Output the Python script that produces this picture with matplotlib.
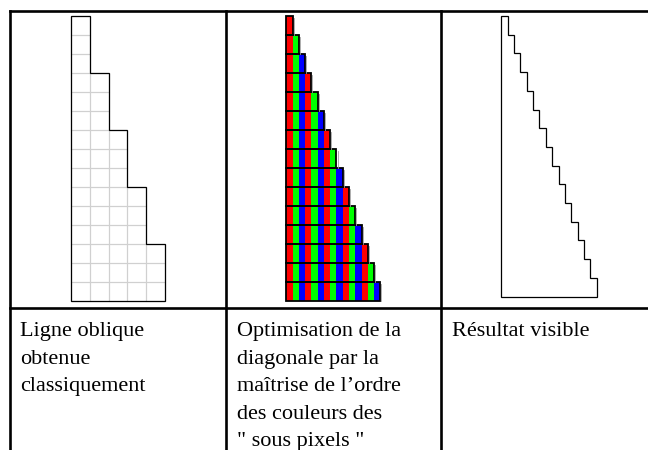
import matplotlib
matplotlib.use('Agg')
import matplotlib.pyplot as plt
from matplotlib.patches import Rectangle, Polygon

# column heights (in cells) of each drawing
classic_heights = [15, 12, 9, 6, 3]
subpixel_heights = [15, 14, 13, 12, 11, 10, 9, 8, 7, 6, 5, 4, 3, 2, 1]
result_heights = [15, 14, 13, 12, 11, 10, 9, 8, 7, 6, 5, 4, 3, 2, 1]
subpixel_colors = ['#ff0000', '#00ff00', '#0000ff']

captions = [
    ['Ligne oblique', 'obtenue', 'classiquement'],
    ['Optimisation de la', 'diagonale par la', 'maîtrise de l\u2019ordre',
     'des couleurs des', '" sous pixels "'],
    ['Résultat visible'],
]

W, H = 648, 450
fig = plt.figure(figsize=(W / 100, H / 100), dpi=100)
ax = fig.add_axes([0, 0, 1, 1])
ax.set_xlim(0, W)
ax.set_ylim(H, 0)
ax.axis('off')


def stair_outline(x0, y0, cw, ch, heights):
    # outline of left-aligned columns whose bottoms share the same line
    n = max(heights)
    bottom = y0 + n * ch
    pts = [(x0, bottom)]
    for i, h in enumerate(heights):
        top = bottom - h * ch
        pts.append((x0 + i * cw, top))
        pts.append((x0 + (i + 1) * cw, top))
    pts.append((x0 + len(heights) * cw, bottom))
    return pts


# --- table frame
lw_tab = 1.9
col_x = [9.5, 226, 441]
top_y, sep_y = 10.5, 308
ax.plot([col_x[0], W], [top_y, top_y], color='black', lw=lw_tab, solid_capstyle='projecting')
ax.plot([col_x[0], W], [sep_y, sep_y], color='black', lw=lw_tab)
for x in col_x:
    ax.plot([x, x], [top_y, H], color='black', lw=lw_tab, solid_capstyle='projecting')

# --- panel 1: classic oblique line on a pixel grid
x0, y0, cw, ch = 70.7, 16, 18.9, 19
n = max(classic_heights)
for i, h in enumerate(classic_heights):
    for r in range(h):
        ax.add_patch(Rectangle((x0 + i * cw, y0 + (n - 1 - r) * ch), cw, ch,
                               fill=False, edgecolor='#d0d0d0', lw=0.8))
ax.add_patch(Polygon(stair_outline(x0, y0, cw, ch, classic_heights), closed=True,
                     fill=False, edgecolor='black', lw=0.9, joinstyle='miter'))

# --- panel 2: sub-pixel ordering
x0, y0, cw, ch = 286.3, 16, 6.27, 19
n = max(subpixel_heights)
for i, h in enumerate(subpixel_heights):
    ax.add_patch(Rectangle((x0 + i * cw, y0 + (n - h) * ch), cw, h * ch,
                           facecolor=subpixel_colors[i % 3], edgecolor='none'))
for r in range(n):
    ncols = sum(1 for h in subpixel_heights if h >= n - r)
    # faint shadow on the right of each step
    ax.plot([x0 + ncols * cw + 1.1] * 2, [y0 + r * ch + 1.5, y0 + (r + 1) * ch],
            color='#a0a0a0', lw=0.6)
    ax.add_patch(Rectangle((x0, y0 + r * ch), ncols * cw, ch,
                           fill=False, edgecolor='black', lw=1.3))

# --- panel 3: visible result
x0, y0, cw, ch = 501.3, 16, 6.36, 18.7
ax.add_patch(Polygon(stair_outline(x0, y0, cw, ch, result_heights), closed=True,
                     fill=False, edgecolor='black', lw=0.9, joinstyle='miter'))

# --- captions
base_y, line_h = 336, 27.6
for x, lines in zip(col_x, captions):
    for k, line in enumerate(lines):
        ax.text(x + 11, base_y + k * line_h, line, fontsize=16,
                family=['Liberation Serif', 'DejaVu Serif'],
                ha='left', va='baseline', color='black')

fig.savefig('out.png', dpi=100)
plt.close(fig)
